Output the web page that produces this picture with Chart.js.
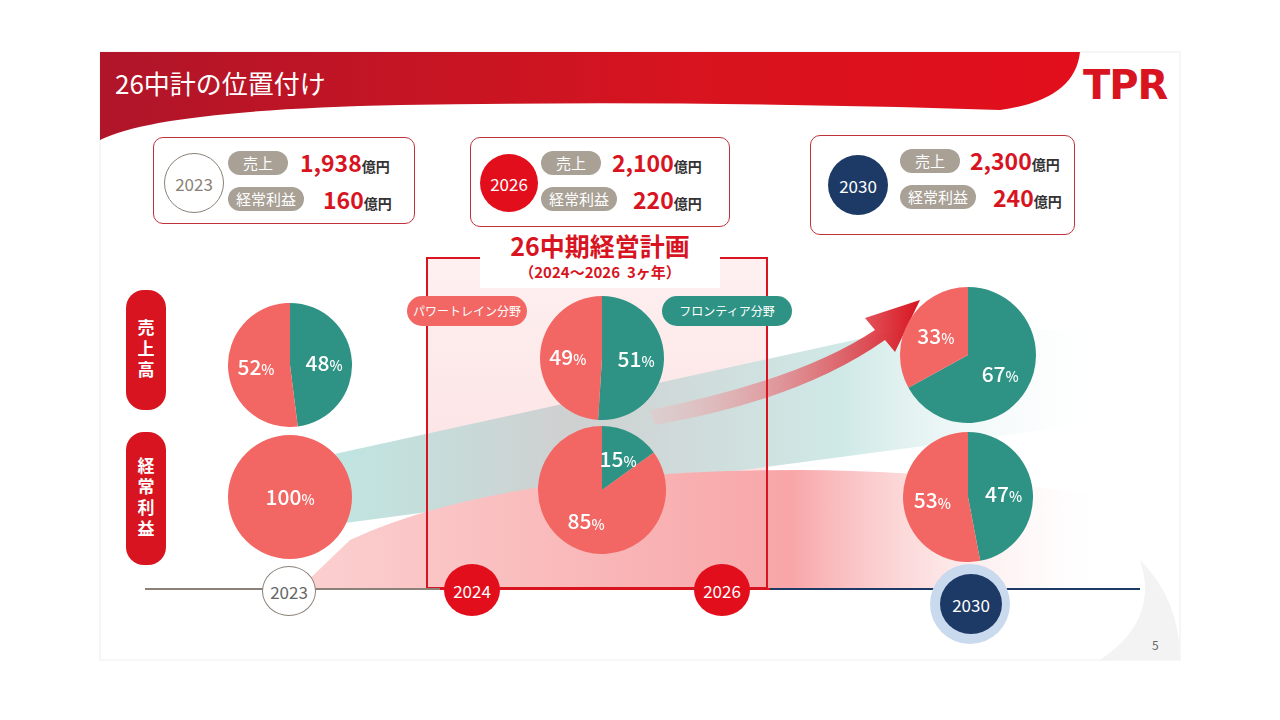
<!DOCTYPE html>
<html><head><meta charset="utf-8">
<script src="https://cdn.jsdelivr.net/npm/chart.js@4.4.1/dist/chart.umd.min.js"></script>
<style>
body{margin:0;width:1280px;height:720px;background:#fff;font-family:"Noto Sans CJK JP","Noto Sans",sans-serif;position:relative;overflow:hidden}
.abs{position:absolute}
.box{position:absolute;border:1.5px solid #c0323a;border-radius:10px;background:#fff}
.yr{position:absolute;border-radius:50%;display:flex;align-items:center;justify-content:center;font-size:17px}
.tag{position:absolute;background:#a9a196;color:#fff;border-radius:12px;font-size:15px;text-align:center;height:24px;line-height:24px}
.val{position:absolute;color:#d7141f;font-weight:bold;font-size:23px;white-space:nowrap}
.val small{font-size:14px;color:#333;font-weight:bold}
.side{position:absolute;left:126px;width:40px;background:#d7141f;color:#fff;border-radius:18px;font-size:17px;font-weight:bold;writing-mode:vertical-rl;display:flex;align-items:center;justify-content:center;letter-spacing:4px}
.pill{position:absolute;height:30px;line-height:30px;border-radius:15px;color:#fff;font-size:12px;text-align:center}
canvas.pie{position:absolute}
</style></head><body>
<svg class="abs" style="left:0;top:0" width="1280" height="720">
<defs>
<linearGradient id="hd" x1="0" x2="1"><stop offset="0" stop-color="#b01529"/><stop offset="0.6" stop-color="#d7141f"/><stop offset="1" stop-color="#e30e1c"/></linearGradient>
<linearGradient id="band" x1="0" x2="1"><stop offset="0" stop-color="#bfe6e2"/><stop offset="0.3" stop-color="#cfd0d0"/><stop offset="0.65" stop-color="#cfe9e7"/><stop offset="1" stop-color="#ffffff" stop-opacity="0"/></linearGradient>
<linearGradient id="pink" x1="0" x2="1"><stop offset="0" stop-color="#fbd0d0"/><stop offset="0.6" stop-color="#f8a6a8"/><stop offset="1" stop-color="#ffffff" stop-opacity="0"/></linearGradient>
<linearGradient id="arr" x1="0" x2="1"><stop offset="0" stop-color="#f7b9bc" stop-opacity="0.3"/><stop offset="1" stop-color="#d7141f"/></linearGradient>
<linearGradient id="frame" x1="0" y1="0" x2="0" y2="1"><stop offset="0" stop-color="#fde6e7"/><stop offset="1" stop-color="#f9c4c6"/></linearGradient>
</defs>
<rect x="100" y="52" width="1080" height="608" fill="#fff" stroke="#eee"/>
<path d="M100 52 H1080 Q1075 100 1000 110 Q700 100 400 105 Q160 110 100 140 Z" fill="url(#hd)"/>
<path d="M1140 560 Q1180 600 1180 660 L1100 660 Q1160 620 1140 560Z" fill="#f3f3f3"/>
<rect x="427" y="258" width="340" height="330" fill="url(#frame)" opacity="0.6"/>
<path d="M330 455 L900 330 L1120 330 L1120 420 L330 525 Z" fill="url(#band)"/>
<path d="M350 540 Q500 470 800 470 Q950 470 1120 500 L1120 588 L300 588 Z" fill="url(#pink)"/>
<path d="M650 410 Q800 380 875 330 L865 318 L920 300 L895 352 L885 340 Q800 400 655 425 Z" fill="url(#arr)"/>
<rect x="427" y="258" width="340" height="330" fill="none" stroke="#d7141f" stroke-width="2"/>
<rect x="480" y="240" width="240" height="48" fill="#fff"/>
<line x1="145" y1="589" x2="440" y2="589" stroke="#8a8178" stroke-width="2"/>
<line x1="440" y1="589" x2="770" y2="589" stroke="#d7141f" stroke-width="2"/>
<line x1="770" y1="589" x2="1140" y2="589" stroke="#1d3a66" stroke-width="2"/>
<circle cx="970" cy="604" r="40" fill="#c9d9ee"/>
</svg>
<div class="abs" style="left:115px;top:64px;color:#fff;font-size:26px">26中計の位置付け</div>
<div class="abs" style="left:1083px;top:62px;color:#d7141f;font-size:40px;font-weight:900;font-family:'DejaVu Sans';letter-spacing:-1px">TPR</div>

<div class="box" style="left:153px;top:137px;width:260px;height:85px"></div>
<div class="yr" style="left:164px;top:153px;width:58px;height:58px;border:1.5px solid #8a8178;color:#8a8178">2023</div>
<div class="box" style="left:470px;top:137px;width:258px;height:88px"></div>
<div class="yr" style="left:480px;top:154px;width:58px;height:58px;background:#e30e1c;color:#fff">2026</div>
<div class="box" style="left:810px;top:135px;width:263px;height:98px"></div>
<div class="yr" style="left:828px;top:155px;width:60px;height:60px;background:#1d3a66;color:#fff">2030</div>
<div id="vals"></div>

<div class="abs" style="left:480px;top:228px;width:240px;text-align:center;color:#d7141f;font-weight:bold;font-size:25px;line-height:34px">26中期経営計画</div>
<div class="abs" style="left:480px;top:262px;width:240px;text-align:center;color:#d7141f;font-weight:bold;font-size:15px;line-height:20px">（2024～2026&nbsp; 3ヶ年）</div>

<div class="side" style="top:290px;height:120px">売上高</div>
<div class="side" style="top:432px;height:133px">経常利益</div>
<div class="pill" style="left:407px;top:296px;width:120px;background:#f26763">パワートレイン分野</div>
<div class="pill" style="left:662px;top:296px;width:130px;background:#2e9384">フロンティア分野</div>

<div class="yr" style="left:262px;top:566px;width:52px;height:48px;border:1.5px solid #8a8178;background:#fff;color:#666">2023</div>
<div class="yr" style="left:444px;top:564px;width:56px;height:52px;background:#e30e1c;color:#fff">2024</div>
<div class="yr" style="left:694px;top:564px;width:56px;height:52px;background:#e30e1c;color:#fff">2026</div>
<div class="yr" style="left:940px;top:574px;width:62px;height:60px;background:#1d3a66;color:#fff">2030</div>
<div class="abs" style="left:1152px;top:636px;color:#666;font-size:12px">5</div>

<script>
const years = ["2023", "2026", "2030"];
const sales = ["1,938", "2,100", "2,300"];
const profit = ["160", "220", "240"];
// [フロンティア, パワートレイン]
const salesShare = [[48, 52], [51, 49], [67, 33]];
const profitShare = [[0, 100], [15, 85], [47, 53]];
const shareColors = ["#2e9384", "#f26763"];

const boxX = [228, 541, 900];
const boxY = [137, 137, 135];
const salesX = [300, 612, 970];
const profitX = [323, 633, 993];
let h = "";
years.forEach((y, i) => {
    h += `<div class="tag" style="left:${boxX[i]}px;top:${boxY[i] + 14}px;width:60px">売上</div>`;
    h += `<div class="tag" style="left:${boxX[i]}px;top:${boxY[i] + 50}px;width:76px">経常利益</div>`;
    h += `<div class="val" style="left:${salesX[i]}px;top:${boxY[i] + 8}px">${sales[i]}<small>億円</small></div>`;
    h += `<div class="val" style="left:${profitX[i]}px;top:${boxY[i] + 45}px">${profit[i]}<small>億円</small></div>`;
});
document.getElementById("vals").innerHTML = h;

const labelPlugin = {
    id: "pct",
    afterDatasetsDraw(chart) {
        const ctx = chart.ctx;
        const meta = chart.getDatasetMeta(0);
        meta.data.forEach((arc, i) => {
            const v = chart.data.datasets[0].data[i];
            if (!v) return;
            const mid = (arc.startAngle + arc.endAngle) / 2;
            const r = v === 100 ? 0 : arc.outerRadius * 0.55;
            const x = arc.x + Math.cos(mid) * r, y = arc.y + Math.sin(mid) * r;
            ctx.save();
            ctx.fillStyle = "#fff";
            ctx.textBaseline = "middle";
            ctx.font = "500 21px 'Noto Sans CJK JP'";
            const w1 = ctx.measureText(String(v)).width;
            ctx.font = "500 14px 'Noto Sans CJK JP'";
            const w2 = ctx.measureText("%").width;
            ctx.font = "500 21px 'Noto Sans CJK JP'";
            ctx.fillText(String(v), x - (w1 + w2) / 2, y);
            ctx.font = "500 14px 'Noto Sans CJK JP'";
            ctx.fillText("%", x - (w1 + w2) / 2 + w1, y + 3);
            ctx.restore();
        });
    }
};

function makePie(cx, cy, r, data) {
    const c = document.createElement("canvas");
    c.className = "pie";
    c.width = r * 2; c.height = r * 2;
    c.style.left = (cx - r) + "px"; c.style.top = (cy - r) + "px";
    c.style.width = r * 2 + "px"; c.style.height = r * 2 + "px";
    document.body.appendChild(c);
    new Chart(c, {
        type: "pie",
        data: { labels: ["フロンティア分野", "パワートレイン分野"], datasets: [{ data: data, backgroundColor: shareColors, borderWidth: 0 }] },
        options: { responsive: false, animation: false, layout: { padding: 0 },
            plugins: { legend: { display: false }, tooltip: { enabled: false } } },
        plugins: [labelPlugin]
    });
}
const pieX = [290, 602, 968];
const salesY = [365, 358, 355];
const profitY = [497, 490, 497];
const salesR = [62, 62, 68];
const profitR = [62, 64, 65];
years.forEach((y, i) => {
    makePie(pieX[i], salesY[i], salesR[i], salesShare[i]);
    makePie(pieX[i], profitY[i], profitR[i], profitShare[i]);
});
</script>
</body></html>
